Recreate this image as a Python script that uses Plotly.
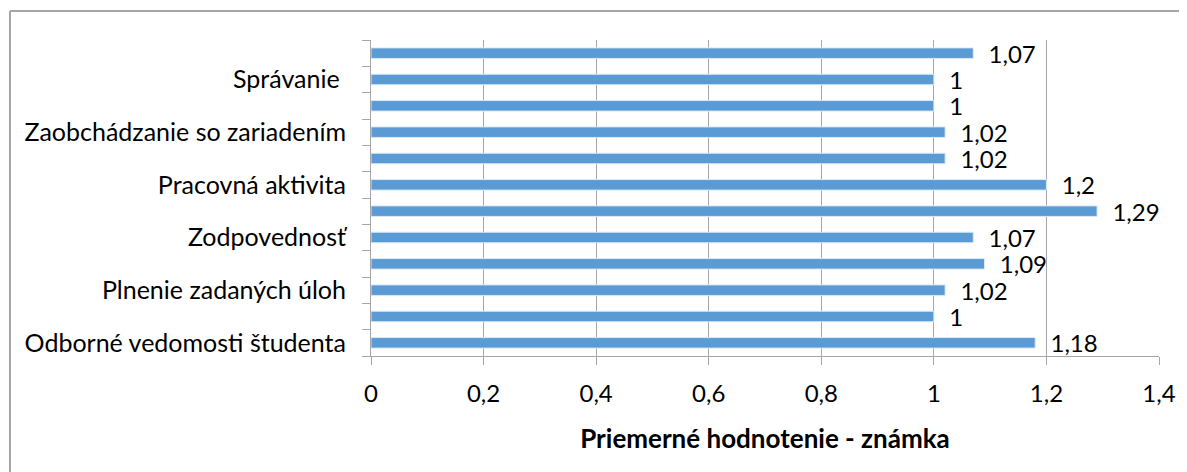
import plotly.graph_objects as go

# ---- data (bottom to top) ----
tick_labels = ["Odborné vedomosti študenta", "Plnenie zadaných úloh", "Zodpovednosť",
               "Pracovná aktivita", "Zaobchádzanie so zariadením", "Správanie\u00a0"]
values = [1.18, 1.00, 1.02, 1.09, 1.07, 1.29, 1.20, 1.02, 1.02, 1.00, 1.00, 1.07]
x_ticks = [0, 0.2, 0.4, 0.6, 0.8, 1.0, 1.2, 1.4]
x_title = "Priemerné hodnotenie - známka"

# page has an 8px body margin, so the figure is drawn 8px smaller / shifted
OFF = 8
W, H = 1187 - OFF, 472 - OFF
L, R, T, B = 371 - OFF, 28, 40 - OFF, 116
pw, ph = W - L - R, H - T - B

positions = list(range(len(values)))
label_positions = positions[::2]
boundaries = [p - 0.5 for p in positions] + [positions[-1] + 0.5]

BAR = "#5B9BD5"
GRID = "#A6A6A6"
FONT = "Lato"

fig = go.Figure(go.Bar(
    x=values, y=positions, orientation="h",
    marker=dict(color=BAR, line=dict(color="#DCE8F5", width=1)),
    width=0.4,
    texttemplate="\u00a0\u00a0%{x}", textposition="outside", constraintext="none",
    textfont=dict(family=FONT, size=24, color="black"),
    cliponaxis=False, hoverinfo="skip",
))

fig.update_layout(
    width=W, height=H, margin=dict(l=L, r=R, t=T, b=B, autoexpand=False),
    paper_bgcolor="white", plot_bgcolor="white",
    separators=", ", showlegend=False,
    font=dict(family=FONT, size=24, color="black"),
    xaxis=dict(range=[0, 1.4], tickvals=x_ticks, showgrid=True, gridcolor=GRID, gridwidth=1,
               showline=True, linecolor=GRID, linewidth=1, ticks="outside", ticklen=8,
               tickcolor=GRID, zeroline=False, ticklabelstandoff=8,
               tickfont=dict(family=FONT, size=24),
               title=dict(text="<b>" + x_title + "</b>", standoff=24,
                          font=dict(family=FONT, size=26))),
    yaxis=dict(range=[-0.5, len(values) - 0.5], tickvals=label_positions, ticktext=tick_labels,
               ticks="", showgrid=False, zeroline=False, showline=True, linecolor=GRID,
               linewidth=1, ticklabelstandoff=19, tickfont=dict(family=FONT, size=25),
               minor=dict(tickvals=boundaries, ticks="outside", ticklen=8, tickcolor=GRID,
                          showgrid=False)),
)

# chart-area border (left and top edges)
bx = (10 - OFF - L) / pw
by = 1 + (T - (11 - OFF)) / ph
fig.add_shape(type="line", xref="paper", yref="paper", x0=bx, x1=bx, y0=by, y1=-10,
              line=dict(color="#A6A6A6", width=2))
fig.add_shape(type="line", xref="paper", yref="paper", x0=bx, x1=10, y0=by, y1=by,
              line=dict(color="#A6A6A6", width=2))

fig.write_html("out.html")
